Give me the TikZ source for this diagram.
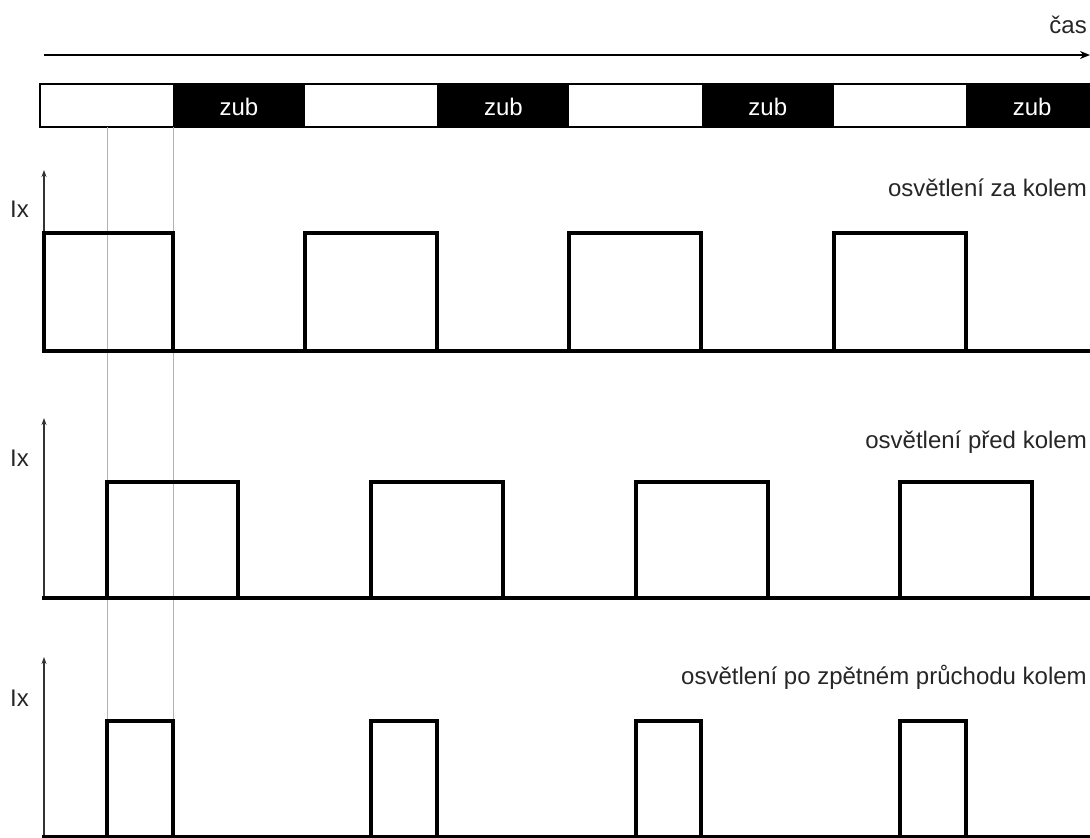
\documentclass[tikz,border=0pt]{standalone}
\usepackage{fontspec}
\setmainfont{Liberation Sans}
\usetikzlibrary{arrows.meta}
\tikzset{
  signal/.style={line width=3.4pt, line cap=rect, line join=miter},
  axis/.style={-{Stealth[length=7pt,width=5pt]}, line width=1.4pt, black!80},
  guide/.style={line width=1pt, black!30},
  lbl/.style={font=\fontsize{24}{28}\selectfont, text=black!85, inner sep=0pt}
}

\begin{document}
\begin{tikzpicture}[x=1pt,y=-1pt,>=Stealth]
  \useasboundingbox (0,0) rectangle (1090,838);
  % time
  \coordinate (t0) at (44,55);
  \coordinate (t1) at (1090,55);
  \draw[-{Stealth[length=10pt,width=8pt]},line width=2pt] (t0) -- (t1);
  \node[lbl,anchor=base east] (cas) at (1087,33) {čas};
  % wheel teeth
  \foreach \k in {0,...,3}
    \fill ({172.7+264.4*\k},84) rectangle ({min(304.9+264.4*\k,1090)},127);
  \draw[line width=2pt] (40,84) rectangle (1090,127);
  \foreach \k in {1,...,4}
    \node[lbl,text=white] (zub\k) at ({239+264.4*(\k-1)},107) {zub};
  % guides
  \draw[guide] (107,127) -- (107,721);
  \draw[guide] (173,127) -- (173,721);
  % behind the wheel
  \coordinate (a0) at (44,351);
  \coordinate (a1) at (44,170);
  \draw[axis] (a0) -- (a1);
  \node[lbl,anchor=base west] (ixA) at (10,217) {Ix};
  \node[lbl,anchor=base east] (capA) at (1087,196) {osvětlení za kolem};
  \draw[signal] (44,351) -- (1090,351);
  \foreach \a/\b in {44/173,305/437,569/701,834/966}
    \draw[signal] (\a,351) -- (\a,233) -- (\b,233) -- (\b,351);
  % in front of the wheel
  \coordinate (b0) at (44,598);
  \coordinate (b1) at (44,418);
  \draw[axis] (b0) -- (b1);
  \node[lbl,anchor=base west] (ixB) at (10,466) {Ix};
  \node[lbl,anchor=base east] (capB) at (1087,448) {osvětlení před kolem};
  \draw[signal] (44,598) -- (1090,598);
  \foreach \a/\b in {107/238,371/503,636/768,900/1032}
    \draw[signal] (\a,598) -- (\a,482) -- (\b,482) -- (\b,598);
  % back through the wheel
  \coordinate (c0) at (44,838);
  \coordinate (c1) at (44,657);
  \draw[axis] (c0) -- (c1);
  \node[lbl,anchor=base west] (ixC) at (10,706) {Ix};
  \node[lbl,anchor=base east] (capC) at (1087,684) {osvětlení po zpětném průchodu kolem};
  \draw[signal] (44,837) -- (1090,837);
  \foreach \a/\b in {107/173,371/437,636/701,900/966}
    \draw[signal] (\a,837) -- (\a,721) -- (\b,721) -- (\b,837);
\end{tikzpicture}
\end{document}
